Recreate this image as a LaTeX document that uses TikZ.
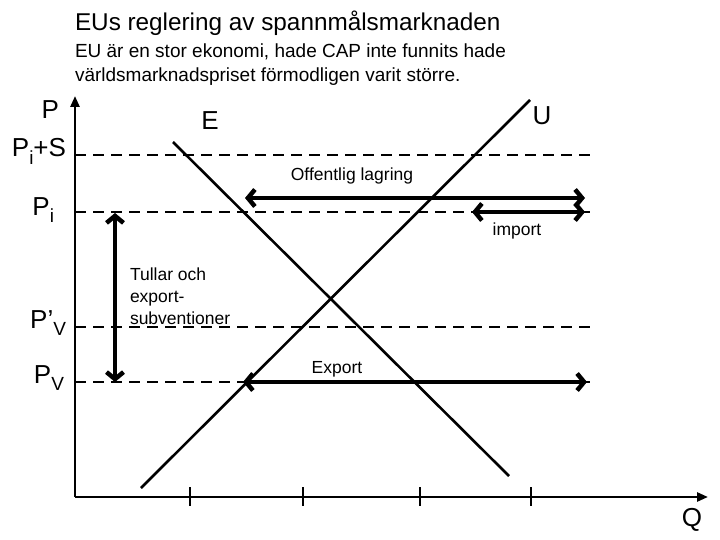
\documentclass[tikz,border=0pt]{standalone}
\usepackage{fontspec}
\setmainfont{Liberation Sans}
\usetikzlibrary{arrows.meta}
\newcommand{\mysub}[1]{\raisebox{-0.28em}{\fontsize{19}{19}\selectfont #1}}
\begin{document}
\begin{tikzpicture}[x=1pt,y=-1pt,
  ax/.style={line width=2.6pt,-{Triangle[length=11pt,width=9pt]}},
  dashln/.style={line width=2.6pt,dash pattern=on 11pt off 7pt},
  curve/.style={line width=2.6pt},
  tickm/.style={line width=2.4pt},
  dbl/.style={line width=4.5pt,{Straight Barb[length=7pt,width=17pt,line width=4.5pt]}-{Straight Barb[length=7pt,width=17pt,line width=4.5pt]}},
  big/.style={font=\fontsize{26}{28}\selectfont},
  small/.style={font=\fontsize{17.5}{22}\selectfont},
  every node/.style={inner sep=0pt,outer sep=0pt}]
\useasboundingbox (0,0) rectangle (720,540);
% titles
\node[anchor=west,font=\fontsize{24.3}{28}\selectfont] (title) at (75,23) {EUs reglering av spannmålsmarknaden};
\node[anchor=north west,align=left,font=\fontsize{19}{23.5}\selectfont] (sub) at (75,44) {EU är en stor ekonomi, hade CAP inte funnits hade\\världsmarknadspriset förmodligen varit större.};
% axes
\coordinate (O) at (75,497);
\coordinate (Ytop) at (75,96);
\coordinate (Xend) at (708,497);
\draw[ax] (O) -- (Ytop);
\draw[ax] (O) -- (Xend);
% ticks
\foreach \t/\x in {a/190,b/303,c/420,d/531}{
  \coordinate (t\t1) at (\x,487);
  \coordinate (t\t2) at (\x,506);
  \draw[tickm] (t\t1) -- (t\t2);
}
% dashed lines
\foreach \n/\y in {pis/155,pi/212,pvp/327,pv/382}{
  \coordinate (\n L) at (75,\y);
  \coordinate (\n R) at (590,\y);
  \draw[dashln] (\n L) -- (\n R);
}
% curves
\coordinate (E1) at (173,142);
\coordinate (E2) at (509,476);
\coordinate (U1) at (141,488);
\coordinate (U2) at (530,100);
\draw[curve] (E1) -- (E2);
\draw[curve] (U1) -- (U2);
% arrows
\coordinate (ol1) at (245,198); \coordinate (ol2) at (585,198);
\coordinate (im1) at (472,212); \coordinate (im2) at (585,212);
\coordinate (tu1) at (115,213); \coordinate (tu2) at (115,382);
\coordinate (ex1) at (243,382); \coordinate (ex2) at (587,382);
\draw[dbl] (ol1) -- (ol2);
\draw[dbl] (im1) -- (im2);
\draw[dbl] (tu1) -- (tu2);
\draw[dbl] (ex1) -- (ex2);
% axis labels
\node[big,anchor=base east] (lP) at (59,119) {P};
\node[big,anchor=base east] (lPiS) at (66,157) {P\mysub{i}+S};
\node[big,anchor=base east] (lPi) at (54,215) {P\mysub{i}};
\node[big,anchor=base east] (lPvp) at (66,328) {P’\mysub{V}};
\node[big,anchor=base east] (lPv) at (64,383) {P\mysub{V}};
\node[big] (lQ) at (692,520) {Q};
\node[big] (lE) at (210,121) {E};
\node[big] (lU) at (542,116) {U};
% texts
\node[small] (tOL) at (352,176) {Offentlig lagring};
\node[small] (tIm) at (517,231) {import};
\node[small,anchor=north west,align=left] (tTu) at (130,268) {Tullar och\\export-\\subventioner};
\node[small] (tEx) at (337,369) {Export};
\end{tikzpicture}
\end{document}
